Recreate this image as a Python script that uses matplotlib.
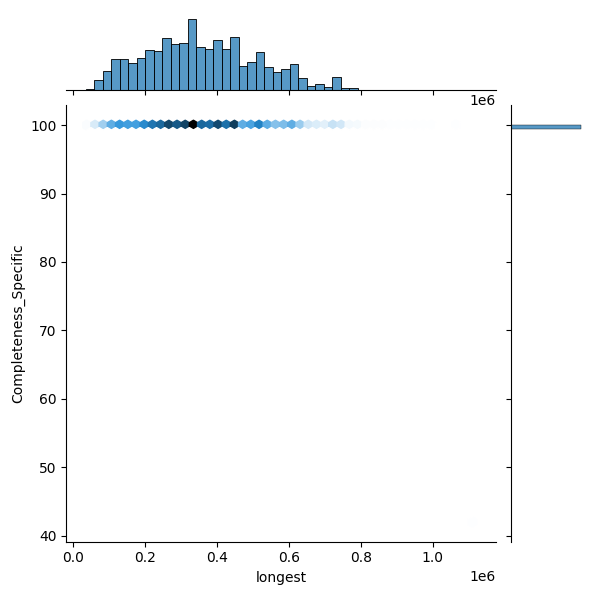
import numpy as np
import pandas as pd
import matplotlib
matplotlib.use("Agg")
import matplotlib.pyplot as plt
import seaborn as sns

# ------------------ data ------------------

x_lo, x_hi = 35_500, 1_122_000      # range of "longest"
n_bins = 46
bin_counts = [5, 29, 56, 92, 92, 80, 95, 119, 116, 155, 137, 140, 212, 128, 122,
              149, 122, 158, 71, 83, 113, 68, 54, 62, 77, 35, 14, 17, 11, 38,
              7, 7, 2, 2, 2, 2, 1, 1, 1, 1, 1, 0, 0, 1, 0, 1]

# almost everything sits at 100; one low value sets the bottom of the y range
main_y = 100.0
low_y = [42.0]
low_y_at = [-1]   # which observations carry the low values

gridsize = 47
y_bins = 100

# ------------------ build observations ------------------

edges = np.linspace(x_lo, x_hi, n_bins + 1)
width = edges[1] - edges[0]
x = np.concatenate([edges[k] + (np.arange(c) + 0.5) / c * width
                    for k, c in enumerate(bin_counts) if c > 0])
y = np.full(len(x), main_y)
y[low_y_at] = low_y

df = pd.DataFrame({"longest": x, "Completeness_Specific": y})

# ------------------ plot ------------------

color_rgb = matplotlib.colors.to_rgb("C0")
cmap = sns.blend_palette([sns.utils.set_hls_values(color_rgb, l=v)
                          for v in np.linspace(1, 0, 12)], as_cmap=True)

g = sns.JointGrid(data=df, x="longest", y="Completeness_Specific", height=6)
g.ax_joint.hexbin(df["longest"], df["Completeness_Specific"],
                  gridsize=gridsize, cmap=cmap)
sns.histplot(x=df["longest"], bins=edges, ax=g.ax_marg_x, color="C0")
sns.histplot(y=df["Completeness_Specific"], bins=y_bins, ax=g.ax_marg_y, color="C0")
g.set_axis_labels("longest", "Completeness_Specific")

g.figure.savefig("out.png", dpi=100)
